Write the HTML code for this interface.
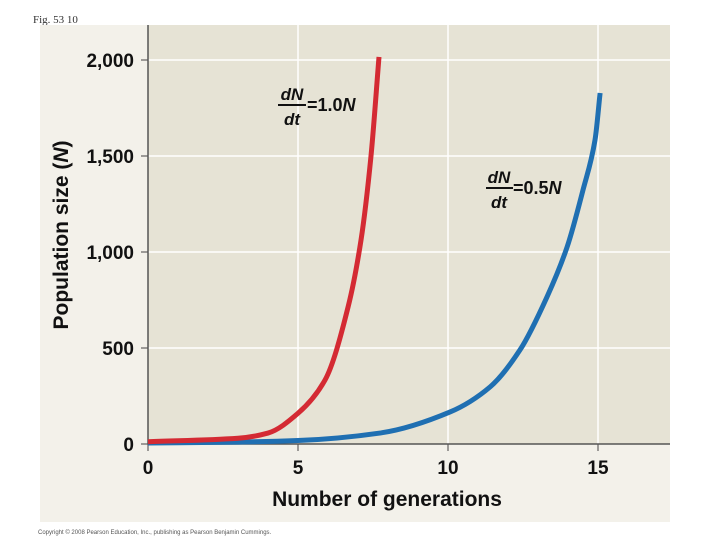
<!DOCTYPE html>
<html><head><meta charset="utf-8"><style>
html,body{margin:0;padding:0;background:#fff;width:720px;height:540px;overflow:hidden}
svg{display:block;font-family:"Liberation Sans",sans-serif}
</style></head><body>
<svg id="chart" width="720" height="540" viewBox="0 0 720 540">
<text x="33" y="23" font-family="Liberation Serif,serif" font-size="11" fill="#333">Fig. 53 10</text>
<rect x="40" y="25" width="630" height="497" fill="#f3f1ea"/>
<rect x="148" y="25" width="522" height="419" fill="#e6e3d5"/>
<g id="grid"></g>
<g id="axes"></g>
<g id="series"></g>
<text transform="translate(68,235) rotate(-90)" text-anchor="middle" font-size="21" font-weight="bold" fill="#111">Population size (<tspan font-style="italic">N</tspan>)</text>
<text x="387" y="506" text-anchor="middle" font-size="21" font-weight="bold" fill="#111">Number of generations</text>
<g font-weight="bold" fill="#111">
<text x="292" y="100" text-anchor="middle" font-size="17" font-style="italic">dN</text>
<line x1="278" y1="105" x2="306" y2="105" stroke="#111" stroke-width="2"/>
<text x="292" y="125" text-anchor="middle" font-size="17" font-style="italic">dt</text>
<text x="307" y="111" font-size="18">=1.0<tspan font-style="italic">N</tspan></text>
</g>
<g font-weight="bold" fill="#111">
<text x="499" y="183" text-anchor="middle" font-size="17" font-style="italic">dN</text>
<line x1="486" y1="188" x2="513" y2="188" stroke="#111" stroke-width="2"/>
<text x="499" y="208" text-anchor="middle" font-size="17" font-style="italic">dt</text>
<text x="513" y="194" font-size="18">=0.5<tspan font-style="italic">N</tspan></text>
</g>
<text x="38" y="534" font-size="6" fill="#555">Copyright © 2008 Pearson Education, Inc., publishing as Pearson Benjamin Cummings.</text>
</svg>
<script>
const xTicks=[0,5,10,15];
const yTicks=[0,500,1000,1500,2000];
const yTickLabels=["0","500","1,000","1,500","2,000"];
const redT=[0,3,4,5,5.9,6.67,7.1,7.43,7.7];
const redN=[12,30,57,160,333,714,1062,1495,2016];
const blueT=[0,3,5,7.73,10.07,11.4,12.4,13.3,13.97,14.5,14.9,15.07];
const blueN=[5,10,18,57,167,297,490,766,1026,1323,1583,1828];
const NS="http://www.w3.org/2000/svg";
const X=t=>148+t*30;
const Y=n=>444-n*0.192;
function mk(tag,attrs,parent){const e=document.createElementNS(NS,tag);for(const k in attrs)e.setAttribute(k,attrs[k]);parent.appendChild(e);return e;}
const grid=document.getElementById('grid'),axes=document.getElementById('axes'),series=document.getElementById('series');
yTicks.forEach((v,i)=>{
 if(v>0){const g=mk('line',{x1:148,x2:670,y1:Y(v),y2:Y(v),stroke:'#fff','stroke-width':1.5},grid);
 
 }
 const tk=mk('line',{x1:141,x2:148,y1:Y(v),y2:Y(v),stroke:'#444','stroke-width':1},axes);
 
 
 const t=mk('text',{x:134,y:Y(v)+7,'text-anchor':'end','font-size':19,'font-weight':'bold',fill:'#111'},axes);
 t.textContent=yTickLabels[i];
 
 
});
xTicks.forEach(v=>{
 if(v>0){const g=mk('line',{x1:X(v),x2:X(v),y1:25,y2:444,stroke:'#fff','stroke-width':1.5},grid);
 
 }
 const tk=mk('line',{x1:X(v),x2:X(v),y1:444,y2:451,stroke:'#444','stroke-width':1},axes);
 
 
 const t=mk('text',{x:X(v),y:474,'text-anchor':'middle','font-size':19,'font-weight':'bold',fill:'#111'},axes);
 t.textContent=String(v);
 
 
});
const ya=mk('line',{x1:148,x2:148,y1:25,y2:444,stroke:'#555','stroke-width':1.5},axes);


const xa=mk('line',{x1:148,x2:670,y1:444,y2:444,stroke:'#555','stroke-width':1.5},axes);


function path(ts,ns){
 const xs=ts.map(X),ys=ns.map(Y),n=xs.length;
 const d=[],m=new Array(n);
 for(let i=0;i<n-1;i++)d.push((ys[i+1]-ys[i])/(xs[i+1]-xs[i]));
 m[0]=d[0];m[n-1]=d[n-2];
 for(let i=1;i<n-1;i++){
  if(d[i-1]*d[i]<=0)m[i]=0;
  else{const w1=2*(xs[i+1]-xs[i])+(xs[i]-xs[i-1]),w2=(xs[i+1]-xs[i])+2*(xs[i]-xs[i-1]);
   m[i]=(w1+w2)/(w1/d[i-1]+w2/d[i]);}
 }
 let s='M'+xs[0]+','+ys[0];
 for(let i=0;i<n-1;i++){
  const h=(xs[i+1]-xs[i])/3;
  s+=` C${xs[i]+h},${ys[i]+m[i]*h} ${xs[i+1]-h},${ys[i+1]-m[i+1]*h} ${xs[i+1]},${ys[i+1]}`;
 }
 return s;
}
const blue=mk('path',{d:path(blueT,blueN),fill:'none',stroke:'#1f6fb2','stroke-width':5},series);


const red=mk('path',{d:path(redT,redN),fill:'none',stroke:'#d42a33','stroke-width':5},series);


</script>
</body></html>
